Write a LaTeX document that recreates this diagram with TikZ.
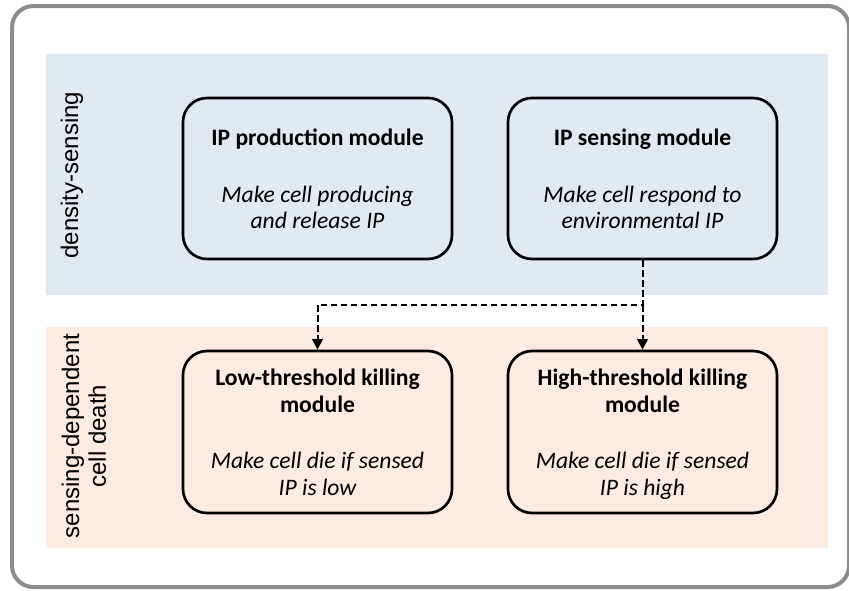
\documentclass[tikz,border=0pt]{standalone}
\usepackage{fontspec}
\setmainfont{Carlito}
\newfontfamily\labelfont{Liberation Sans}
\usetikzlibrary{arrows.meta}
\definecolor{bandblue}{HTML}{E1E9F3}
\definecolor{bandpeach}{HTML}{FCEBE0}
\definecolor{framegray}{HTML}{8C8C8C}
\tikzset{
  modbox/.style={draw=black, line width=2pt, rounded corners=18pt, inner sep=0pt},
  conn/.style={draw=black, line width=1.5pt, dash pattern=on 5pt off 2.5pt, -{Triangle[length=8pt,width=8pt]}},
  sidelabel/.style={font=\labelfont\fontsize{18pt}{20pt}\selectfont, rotate=90, align=center},
  ttl/.style={anchor=base, inner sep=0pt, font=\bfseries\fontsize{17.7pt}{20pt}\selectfont},
  desc/.style={anchor=base, inner sep=0pt, font=\itshape\fontsize{17.7pt}{20pt}\selectfont}
}
\begin{document}
\begin{tikzpicture}[x=0.75pt,y=-0.75pt]
\useasboundingbox (0,0) rectangle (849,590);
% outer frame
\draw[framegray, line width=3pt, rounded corners=16pt] (12,6) rectangle (849,587);
% bands
\fill[bandblue] (46,54) rectangle (828,295);
\fill[bandpeach] (46,327) rectangle (828,548);
% side labels
\node[sidelabel] (lab1) at (72,175) {density-sensing};
\node[sidelabel] (lab2) at (84,436) {sensing-dependent\\cell death};
% boxes
\node[modbox, minimum width=269*0.75pt, minimum height=161*0.75pt] (prod) at (317.5,178.5) {};
\node[modbox, minimum width=269*0.75pt, minimum height=161*0.75pt] (sens) at (642.5,178.5) {};
\node[modbox, minimum width=269*0.75pt, minimum height=162*0.75pt] (low) at (317.5,432) {};
\node[modbox, minimum width=269*0.75pt, minimum height=162*0.75pt] (high) at (642.5,432) {};
% texts
\node[ttl] (t1) at (317.5,145) {IP production module};
\node[desc] (t2a) at (317.5,202) {Make cell producing};
\node[desc] (t2b) at (317.5,228) {and release IP};
\node[ttl] (t3) at (642.5,145) {IP sensing module};
\node[desc] (t4a) at (642.5,202) {Make cell respond to};
\node[desc] (t4b) at (642.5,228) {environmental IP};
\node[ttl] (t5a) at (317.5,385) {Low-threshold killing};
\node[ttl] (t5b) at (317.5,412) {module};
\node[desc] (t6a) at (317.5,468) {Make cell die if sensed};
\node[desc] (t6b) at (317.5,495) {IP is low};
\node[ttl] (t7a) at (642.5,385) {High-threshold killing};
\node[ttl] (t7b) at (642.5,412) {module};
\node[desc] (t8a) at (642.5,468) {Make cell die if sensed};
\node[desc] (t8b) at (642.5,495) {IP is high};
% connectors
\coordinate (split) at (642.5,305);
\draw[conn] (sens.south) -- (split) -| (low.north);
\draw[conn] (split) -- (high.north);
\end{tikzpicture}
\end{document}
